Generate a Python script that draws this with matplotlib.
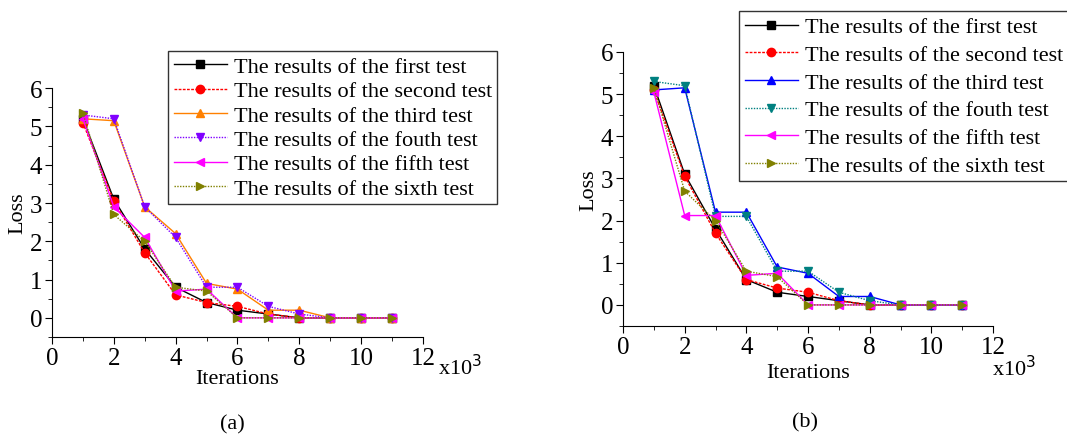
import matplotlib.pyplot as plt
from matplotlib.ticker import MultipleLocator

plt.rcParams['font.family'] = ['Liberation Serif', 'DejaVu Serif']

iterations = [1, 2, 3, 4, 5, 6, 7, 8, 9, 10, 11]
labels = ["The results of the first test", "The results of the second test",
          "The results of the third test", "The results of the fouth test",
          "The results of the fifth test", "The results of the sixth test"]

# panel (a)
loss_a_first = [5.2, 3.1, 1.8, 0.8, 0.4, 0.2, 0.1, 0, 0, 0, 0]
loss_a_second = [5.1, 3.05, 1.7, 0.6, 0.4, 0.3, 0.1, 0, 0, 0, 0]
loss_a_third = [5.2, 5.15, 2.9, 2.2, 0.9, 0.75, 0.2, 0.2, 0, 0, 0]
loss_a_fourth = [5.3, 5.2, 2.9, 2.1, 0.8, 0.8, 0.3, 0.1, 0, 0, 0]
loss_a_fifth = [5.2, 2.9, 2.1, 0.7, 0.75, 0, 0, 0, 0, 0, 0]
loss_a_sixth = [5.35, 2.7, 2.0, 0.8, 0.7, 0, 0, 0, 0, 0, 0]

# panel (b)
loss_b_first = [5.2, 3.1, 1.8, 0.6, 0.3, 0.2, 0.1, 0, 0, 0, 0]
loss_b_second = [5.1, 3.05, 1.7, 0.6, 0.4, 0.3, 0.1, 0, 0, 0, 0]
loss_b_third = [5.1, 5.15, 2.2, 2.2, 0.9, 0.75, 0.2, 0.2, 0, 0, 0]
loss_b_fourth = [5.3, 5.2, 2.1, 2.1, 0.8, 0.8, 0.3, 0.1, 0, 0, 0]
loss_b_fifth = [5.05, 2.12, 2.12, 0.7, 0.75, 0, 0, 0, 0, 0, 0]
loss_b_sixth = [5.15, 2.7, 2.0, 0.8, 0.67, 0, 0, 0, 0, 0, 0]

markers = ['s', 'o', '^', 'v', '<', '>']
styles = ['-', (0, (2, 1)), '-', (0, (1, 1)), '-', (0, (1, 1))]
colors_a = ['black', 'red', '#FF8000', '#8000FF', '#FF00FF', '#808000']
colors_b = ['black', 'red', '#0000FF', '#008080', '#FF00FF', '#808000']

fig = plt.figure(figsize=(10.67, 4.35), dpi=100)
ax_a = fig.add_axes([0.0487, 0.223, 0.3477, 0.572])
ax_b = fig.add_axes([0.5839, 0.2483, 0.3468, 0.6299])


def draw(ax, series, colors, leg_anchor, spacing, xlab_y, exp_pos):
    for vals, c, m, ls, lab in zip(series, colors, markers, styles, labels):
        ax.plot(iterations, vals, color=c, marker=m, linestyle=ls, lw=1,
                markersize=6, label=lab)
    ax.set_xlim(0, 12)
    ax.set_ylim(-0.5, 6)
    ax.spines['top'].set_visible(False)
    ax.spines['right'].set_visible(False)
    ax.xaxis.set_major_locator(MultipleLocator(2))
    ax.xaxis.set_minor_locator(MultipleLocator(1))
    ax.yaxis.set_major_locator(MultipleLocator(1))
    ax.yaxis.set_minor_locator(MultipleLocator(0.5))
    ax.tick_params(which='both', direction='out', labelsize=18, pad=2)
    ax.tick_params(which='major', length=5)
    ax.tick_params(which='minor', length=3)
    ax.set_ylabel('Loss', fontsize=16, labelpad=2)
    ax.set_xlabel('Iterations', fontsize=16)
    ax.xaxis.set_label_coords(0.5, xlab_y)
    ax.text(exp_pos[0], exp_pos[1], r'x10$^3$', transform=ax.transAxes,
            fontsize=16, ha='left', va='baseline')
    leg = ax.legend(loc='upper left', bbox_to_anchor=leg_anchor,
                    bbox_transform=fig.transFigure, borderaxespad=0,
                    fontsize=16, fancybox=False, framealpha=1,
                    edgecolor='#333333', handlelength=2.4, labelspacing=spacing,
                    borderpad=0.25, handletextpad=0.3)
    leg.get_frame().set_linewidth(1)


draw(ax_a, [loss_a_first, loss_a_second, loss_a_third, loss_a_fourth,
            loss_a_fifth, loss_a_sixth], colors_a, (0.1575, 0.8805), 0.17,
     -0.13, (1.04, -0.15))
draw(ax_b, [loss_b_first, loss_b_second, loss_b_third, loss_b_fourth,
            loss_b_fifth, loss_b_sixth], colors_b, (0.6926, 0.972), 0.32,
     -0.135, (0.997, -0.18))

fig.text(0.2174, 1 - 425 / 435, '(a)', fontsize=16, ha='center', va='center')
fig.text(0.7545, 1 - 423 / 435, '(b)', fontsize=16, ha='center', va='center')

fig.savefig('out.png', dpi=100)
